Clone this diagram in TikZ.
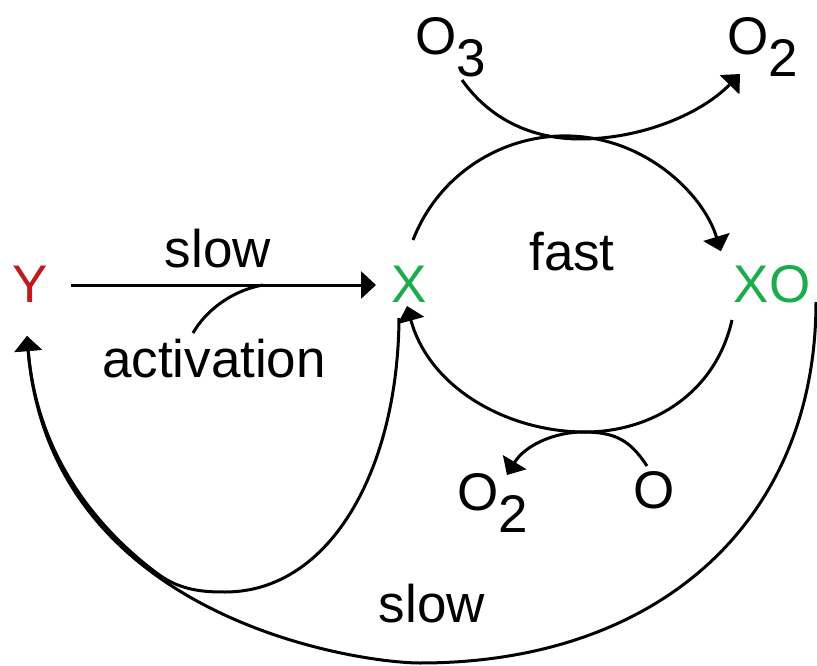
\documentclass[tikz,border=0pt]{standalone}
\usepackage{fontspec}
\setmainfont{Liberation Sans}
\usetikzlibrary{arrows.meta}
\definecolor{yred}{RGB}{192,25,30}
\definecolor{xgreen}{RGB}{28,172,75}
\newcommand{\lowsub}[1]{\raisebox{-22pt}{#1}}
\begin{document}
\begin{tikzpicture}[x=1pt,y=-1pt,
  lbl/.style={inner sep=0pt, font=\fontsize{53}{60}\selectfont},
  conn/.style={line width=3pt},
  tip/.style={-{Triangle[width=27pt,length=15pt]}}
]
\useasboundingbox (0,0) rectangle (817,666);

% nodes
\node[lbl, text=yred, anchor=base] (Y) at (30,302) {Y};
\node[lbl, text=xgreen, anchor=base] (X) at (409,302) {X};
\node[lbl, text=xgreen, anchor=base] (XO) at (772,302) {XO};
\node[lbl, anchor=base] (slowtop) at (218,267) {slow};
\node[lbl, anchor=base] (act) at (214,377) {activation};
\node[lbl, anchor=base] (fast) at (572,270) {fast};
\node[lbl, anchor=base] (slowbot) at (432,622) {slow};
\node[lbl, anchor=base west] (O3) at (415,55) {O\lowsub{3}};
\node[lbl, anchor=base west] (O2a) at (727,55) {O\lowsub{2}};
\node[lbl, anchor=base west] (O2b) at (457,510) {O\lowsub{2}};
\node[lbl, anchor=base] (Ob) at (654,508) {O};
\coordinate (actjoin) at (263,285);

% Y -> X (slow)
\draw[conn,tip] ([shift={(41,-17)}]Y.base) -- ([shift={(-33,-17)}]X.base);
% activation
\draw[conn] ([shift={(-21,-44)}]act.base) .. controls +(12,-21) and +(-33,6) .. (actjoin);
% X -> XO (fast, upper arc)
\draw[conn,tip] ([shift={(4,-62)}]X.base) arc[start angle=-158.8, end angle=-17, radius=163];
% XO -> X (lower arc)
\draw[conn,tip] ([shift={(-40,18)}]XO.base) .. controls +(-17,75) and +(65,0) .. (585,432)
  .. controls +(-75,0) and +(23,84) .. ([shift={(-2,4)}]X.base);
% O3 -> O2
\draw[conn,tip] ([shift={(47,25)}]O3.base west) .. controls +(32,45) and +(-40,0) .. (580,139)
  .. controls +(60,0) and +(-40,41) .. ([shift={(13,19)}]O2a.base west);
% O -> O2
\draw[conn,tip] ([shift={(-7,-42)}]Ob.base) .. controls +(-17,-26) and +(32,0) .. (583,432)
  .. controls +(-28,0) and +(18,-30) .. ([shift={(50,-35)}]O2b.base west);
% XO -> Y (slow, big curve)
\draw[conn,tip] ([shift={(44,0)}]XO.base) .. controls +(0,218) and +(240,0) .. (420,663)
  .. controls +(-60,0) and +(23,284) .. ([shift={(-3,34)}]Y.base);
% X -> Y
\draw[conn,tip] ([shift={(-10,16)}]X.base) .. controls +(-1,152) and +(105,0) .. (225,592)
  .. controls +(-20,0) and +(23,17) .. (158,574)
  .. controls (91.3,524.6) and (36.2,449.6) .. ([shift={(-3,34)}]Y.base);
\end{tikzpicture}
\end{document}
